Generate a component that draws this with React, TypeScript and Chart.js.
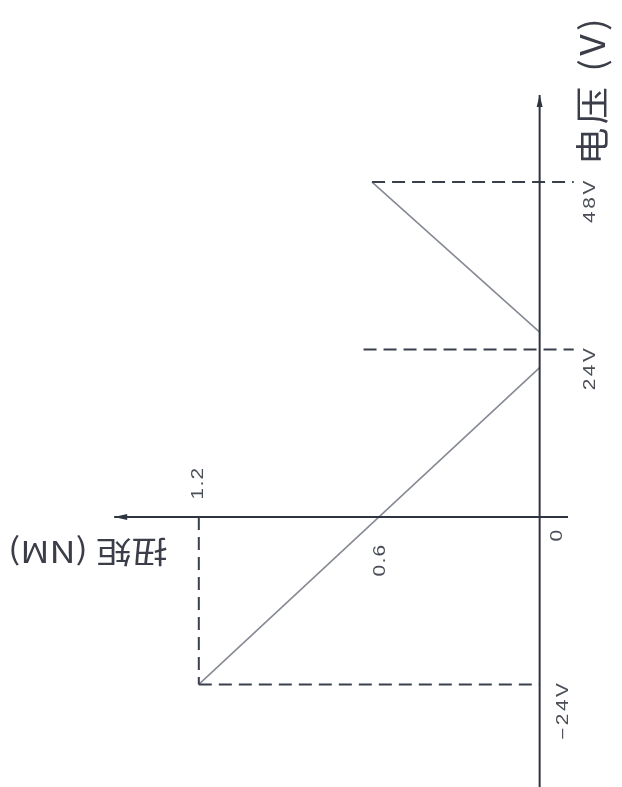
import React, { useEffect, useRef } from "react";
import { Chart, registerables } from "chart.js";

Chart.register(...registerables);

// ---- data (torque in NM, voltage in V) ----
const torqueTickValues = [1.2, 0.6, 0];
const torqueTickLabels = ["1.2", "0.6", "0"];
const voltageTickValues = [48, 24, -24];
const voltageTickLabels = ["48V", "24V", "−24V"];

// reverse-rotation segment (lower): -24V at 1.2 NM up to ~21.4V at 0 NM
const lowerTorque = [1.2, 0];
const lowerVoltage = [-24, 21.4];
// forward segment (upper): ~26.5V at 0 NM up to 48V at ~0.59 NM
const upperTorque = [0, 0.59];
const upperVoltage = [26.5, 48];

// dashed guide lines
const guide48Torque = [0.59, -0.12];
const guide48Voltage = [48, 48];
const guide24Torque = [0.62, -0.12];
const guide24Voltage = [24, 24];
const guideNeg24Torque = [1.2, 0];
const guideNeg24Voltage = [-24, -24];
const guide12Torque = [1.2, 1.2];
const guide12Voltage = [0, -24];

// axis lines
const vAxisTorque = [0, 0];
const vAxisVoltage = [-38.7, 60.5];
const hAxisTorque = [-0.1, 1.498];
const hAxisVoltage = [0, 0];

const xTitle = "扭矩 (NM)";
const yTitle = "电压 (V)";

const pts = (xs: number[], ys: number[]) => xs.map((x, i) => ({ x, y: ys[i] }));

const AXIS = "#2f3441";
const DASH = "#3a3f4c";
const LINE = "#868a93";
const TEXT = "#4a4e57";

const decorPlugin = {
  id: "decor",
  afterDatasetsDraw(chart: any) {
    const ctx = chart.ctx as CanvasRenderingContext2D;
    const xs = chart.scales.x;
    const ys = chart.scales.y;
    const px = (t: number) => xs.getPixelForValue(t);
    const py = (v: number) => ys.getPixelForValue(v);

    ctx.save();
    // arrowheads
    ctx.fillStyle = AXIS;
    const topX = px(vAxisTorque[1]);
    const topY = py(vAxisVoltage[1]);
    ctx.beginPath();
    ctx.moveTo(topX, topY);
    ctx.lineTo(topX - 3, topY + 12);
    ctx.lineTo(topX + 3, topY + 12);
    ctx.closePath();
    ctx.fill();
    const leftX = px(hAxisTorque[1]);
    const leftY = py(hAxisVoltage[1]);
    ctx.beginPath();
    ctx.moveTo(leftX, leftY);
    ctx.lineTo(leftX + 13, leftY - 3);
    ctx.lineTo(leftX + 13, leftY + 3);
    ctx.closePath();
    ctx.fill();

    const rotText = (
      text: string,
      x: number,
      y: number,
      angle: number,
      font: string,
      align: CanvasTextAlign,
      sx: number,
      spacing: number,
      color: string
    ) => {
      ctx.save();
      ctx.translate(x, y);
      ctx.rotate(angle);
      ctx.scale(sx, 1);
      ctx.font = font;
      (ctx as any).letterSpacing = spacing + "px";
      ctx.textAlign = align;
      ctx.textBaseline = "middle";
      ctx.fillStyle = color;
      ctx.fillText(text, 0, 0);
      ctx.restore();
    };

    const tickFont = '16px "Liberation Sans", "DejaVu Sans", sans-serif';

    // voltage tick labels (rotated, ending at the value)
    const vLabelX = [591, 591, 564];
    voltageTickValues.forEach((v, i) => {
      rotText(voltageTickLabels[i], vLabelX[i], py(v) - 4, -Math.PI / 2, tickFont, "right", 1.3, 2, TEXT);
    });

    // torque tick labels (rotated, centered)
    const tPlace = [
      { dx: 0, dy: -34 },
      { dx: 11, dy: 43 },
      { dx: 18, dy: 18 },
    ];
    torqueTickValues.forEach((t, i) => {
      rotText(
        torqueTickLabels[i],
        px(t) + tPlace[i].dx,
        py(0) + tPlace[i].dy,
        -Math.PI / 2,
        tickFont,
        "center",
        1.3,
        1,
        TEXT
      );
    });

    // axis titles
    rotText(yTitle, 592, 90, -Math.PI / 2, '34px "Noto Sans CJK SC", sans-serif', "center", 1.1, 3, "#3b3e48");
    rotText(xTitle, 88, 552, Math.PI, '30px "Noto Sans CJK SC", sans-serif', "center", 1.2, 0, "#3b3e48");

    ctx.restore();
  },
};

export default function App() {
  const ref = useRef<HTMLCanvasElement | null>(null);

  useEffect(() => {
    if (!ref.current) return;
    const solid = (data: any[], color: string, width: number) => ({
      data,
      showLine: true,
      borderColor: color,
      borderWidth: width,
      pointRadius: 0,
      fill: false,
    });
    const dashed = (data: any[]) => ({
      data,
      showLine: true,
      borderColor: DASH,
      borderWidth: 2,
      borderDash: [13, 7],
      pointRadius: 0,
      fill: false,
    });
    const chart = new Chart(ref.current, {
      type: "scatter",
      data: {
        datasets: [
          solid(pts(vAxisTorque, vAxisVoltage), AXIS, 2),
          solid(pts(hAxisTorque, hAxisVoltage), AXIS, 2),
          dashed(pts(guide48Torque, guide48Voltage)),
          dashed(pts(guide24Torque, guide24Voltage)),
          dashed(pts(guideNeg24Torque, guideNeg24Voltage)),
          dashed(pts(guide12Torque, guide12Voltage)),
          solid(pts(lowerTorque, lowerVoltage), LINE, 1.6),
          solid(pts(upperTorque, upperVoltage), LINE, 1.6),
        ] as any,
      },
      options: {
        animation: false,
        responsive: false,
        maintainAspectRatio: false,
        layout: { padding: 0, autoPadding: false } as any,
        plugins: { legend: { display: false }, tooltip: { enabled: false } },
        scales: {
          x: { type: "linear", reverse: true, min: -0.29, max: 1.9, display: false },
          y: { type: "linear", min: -38.7, max: 74.1, display: false },
        },
        clip: false as any,
      },
      plugins: [decorPlugin],
    });
    return () => chart.destroy();
  }, []);

  return (
    <div style={{ position: "fixed", left: 0, top: 0, width: 622, height: 787, background: "#fff" }}>
      <canvas ref={ref} width={622} height={787} style={{ display: "block", width: 622, height: 787 }} />
    </div>
  );
}
